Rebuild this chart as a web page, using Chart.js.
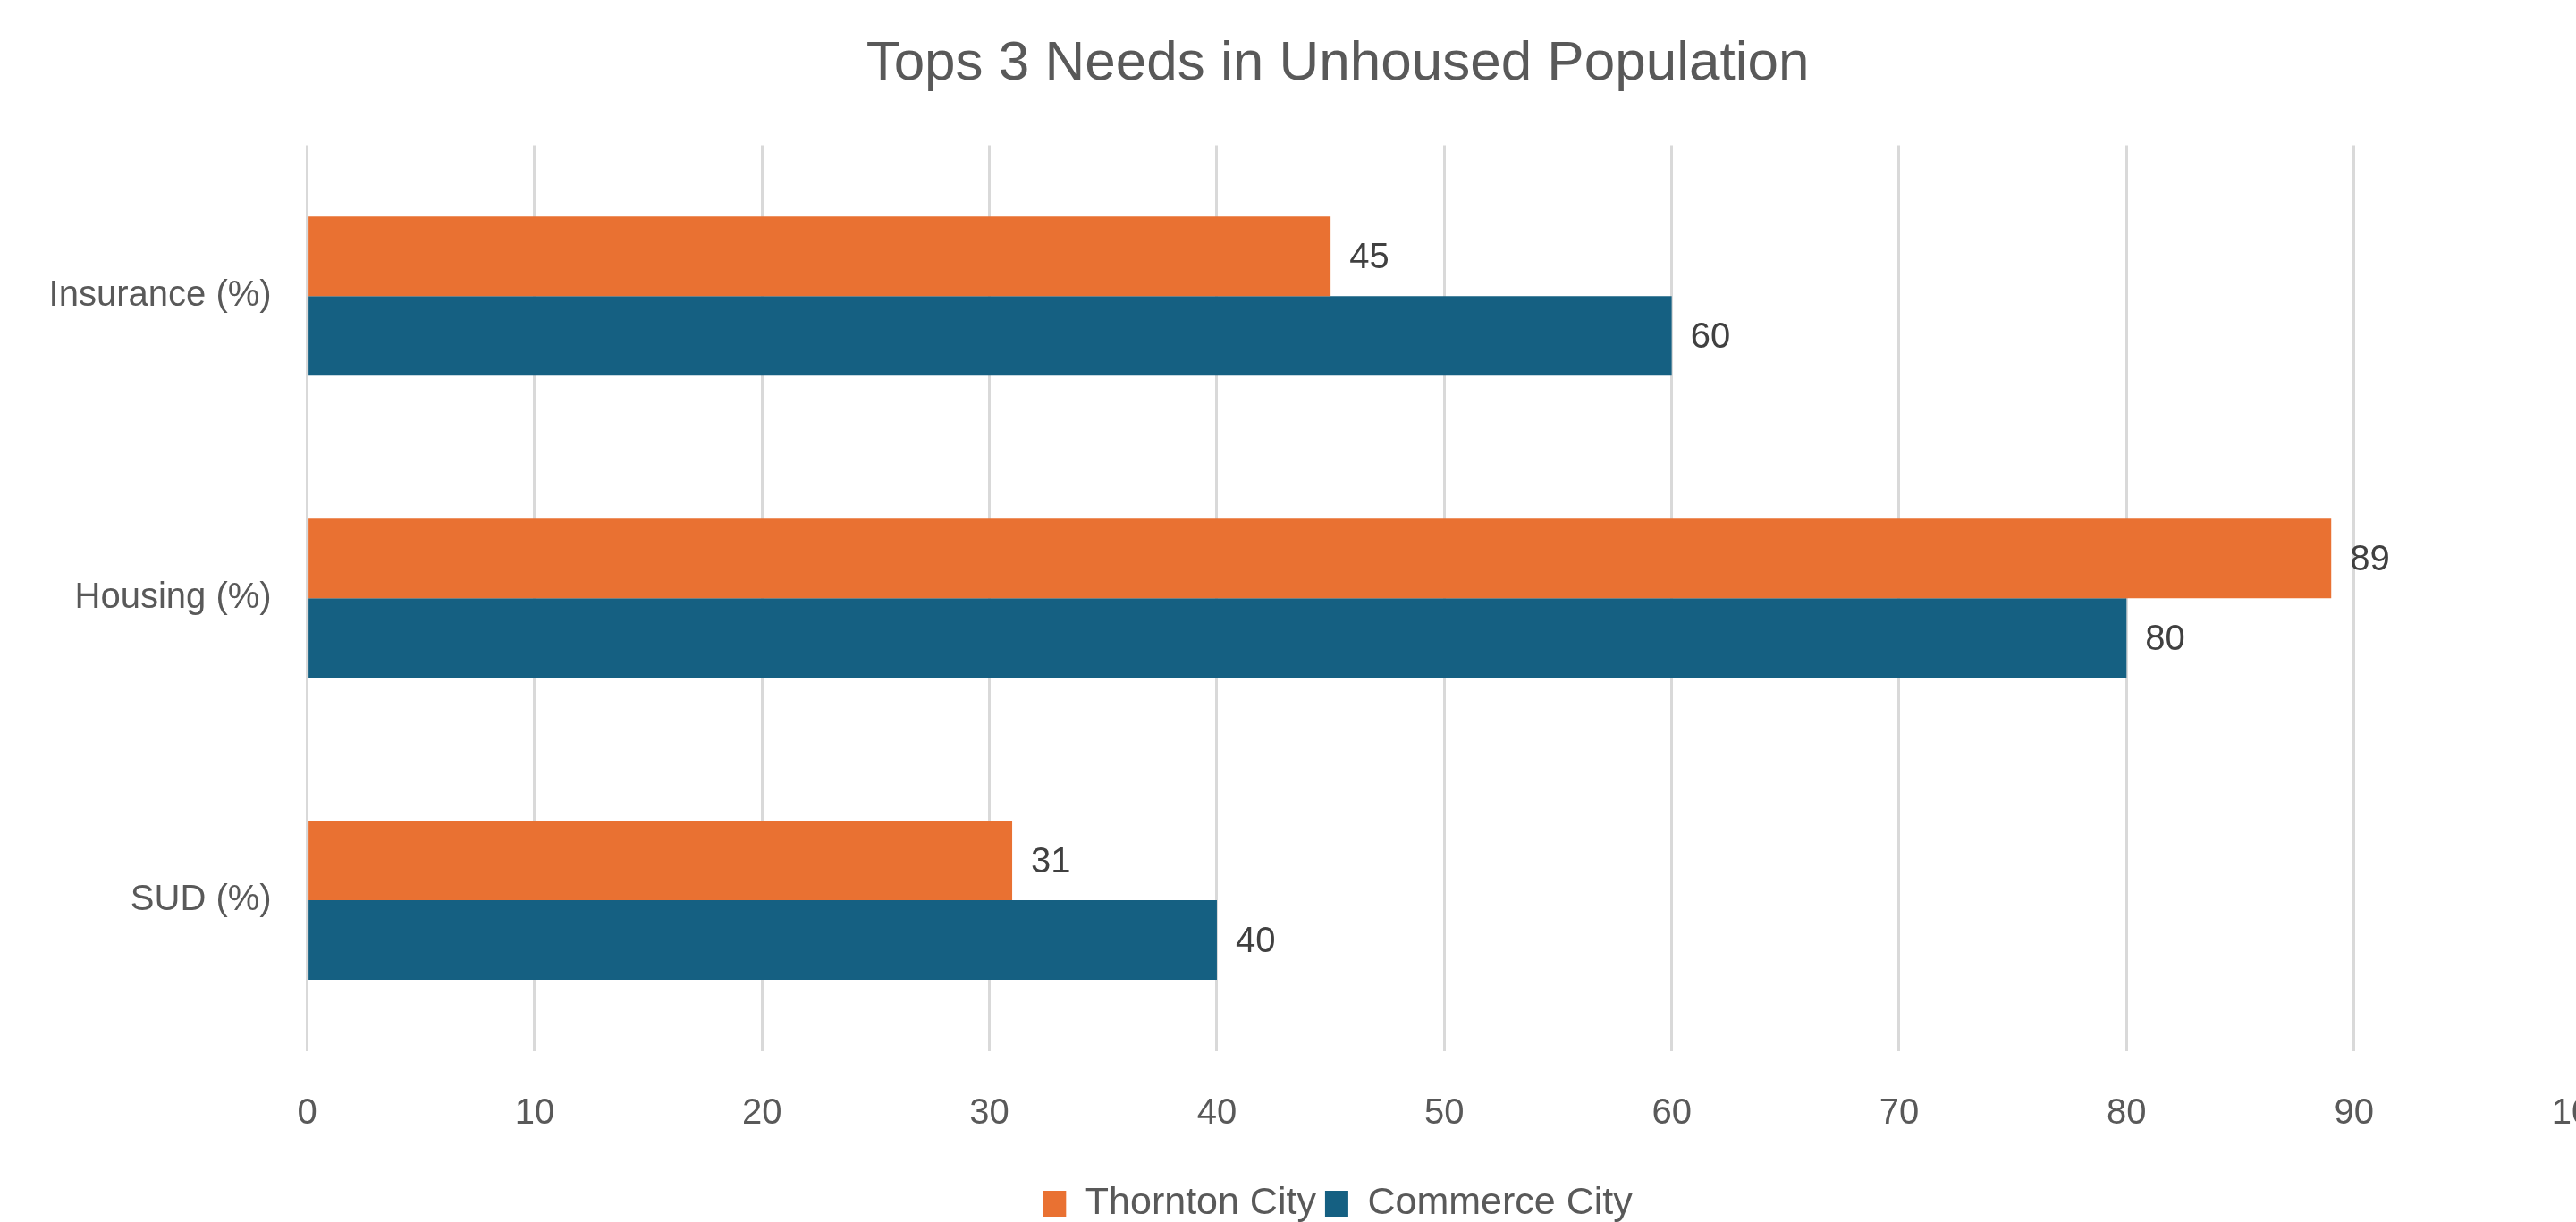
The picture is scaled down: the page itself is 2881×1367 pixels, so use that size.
<!DOCTYPE html>
<html>
<head>
<meta charset="utf-8">
<title>Tops 3 Needs in Unhoused Population</title>
<script src="https://cdn.jsdelivr.net/npm/chart.js@4.4.1/dist/chart.umd.min.js"></script>
<style>
  html, body { margin: 0; padding: 0; background: #fff; overflow: hidden; }
  #wrap { width: 2881px; height: 1367px; overflow: hidden; position: relative; }
  #box { position: absolute; left: 0; top: 0; width: 2960px; height: 1400px; }
</style>
</head>
<body>
<div id="wrap"><div id="box"><canvas id="needsChart"></canvas></div></div>
<script>
// Dane z wykresu
const categories = ['Insurance (%)', 'Housing (%)', 'SUD (%)'];
const thorntonCity = [45, 89, 31];
const commerceCity = [60, 80, 40];
const xTicks = [0, 10, 20, 30, 40, 50, 60, 70, 80, 90, 100];

const FONT = "'Liberation Sans', Arial, sans-serif";

// Etykiety wartości przy końcach słupków
const barLabels = {
    id: 'barLabels',
    afterLayout(chart) {
        // etykiety osi Y nie mogą być przycinane do szerokości osi
        chart.scales.y.left = 0;
    },
    afterDatasetsDraw(chart) {
        const ctx = chart.ctx;
        ctx.save();
        ctx.font = '40px ' + FONT;
        ctx.fillStyle = '#404040';
        ctx.textAlign = 'left';
        ctx.textBaseline = 'middle';
        chart.data.datasets.forEach((ds, i) => {
            chart.getDatasetMeta(i).data.forEach((bar, j) => {
                ctx.fillText(ds.data[j], bar.x + 21, bar.y + 2);
            });
        });
        ctx.restore();
    }
};

const ctx = document.getElementById('needsChart').getContext('2d');
new Chart(ctx, {
    type: 'bar',
    data: {
        labels: categories,
        datasets: [
            { label: 'Thornton City', data: thorntonCity, backgroundColor: '#E97132' },
            { label: 'Commerce City', data: commerceCity, backgroundColor: '#156082' }
        ]
    },
    options: {
        indexAxis: 'y',
        responsive: true,
        maintainAspectRatio: false,
        animation: false,
        devicePixelRatio: 1,
        categoryPercentage: 0.527,
        barPercentage: 1.0,
        layout: { padding: { left: 105, right: 73, top: 0, bottom: 22 } },
        scales: {
            x: {
                min: 0,
                max: 100,
                afterBuildTicks: (axis) => { axis.ticks = xTicks.map(v => ({ value: v })); },
                afterFit: (axis) => { axis.height = 139; },
                grid: { color: '#D9D9D9', lineWidth: 3, drawTicks: false },
                border: { display: false },
                ticks: { color: '#595959', padding: 14, font: { family: FONT, size: 40, lineHeight: 2.8 } }
            },
            y: {
                afterFit: (axis) => { axis.width = 238.6; },
                grid: { display: false, drawTicks: false },
                border: { display: false },
                ticks: { color: '#595959', padding: 40, font: { family: FONT, size: 40 } }
            }
        },
        plugins: {
            title: {
                display: true,
                text: 'Tops 3 Needs in Unhoused Population',
                color: '#595959',
                font: { family: FONT, size: 62, weight: 'normal' },
                padding: { top: 35, bottom: 53 }
            },
            legend: {
                position: 'bottom',
                labels: {
                    color: '#595959',
                    font: { family: FONT, size: 43 },
                    boxWidth: 26,
                    boxHeight: 29,
                    padding: 10
                }
            },
            tooltip: { enabled: false }
        }
    },
    plugins: [barLabels]
});
</script>
</body>
</html>
